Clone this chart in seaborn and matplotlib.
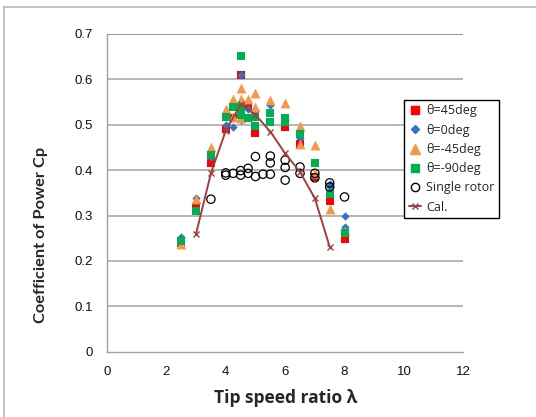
import matplotlib
matplotlib.use("Agg")
import matplotlib.pyplot as plt
import seaborn as sns
from matplotlib.lines import Line2D

# theta = 45 deg
red_x = [2.5, 3, 3.5, 4, 4.25, 4.5, 4.75, 5, 5.5, 6, 6.5, 7, 7.5, 8]
red_y = [0.240, 0.319, 0.416, 0.490, 0.515, 0.609, 0.543, 0.482, 0.507, 0.494, 0.457, 0.386, 0.332, 0.248]

# theta = 0 deg
blue_x = [2.5, 3, 3.5, 4, 4.25, 4.25, 4.5, 4.5, 4.75, 5, 5.5, 6, 6.5, 7, 7.5, 7.5, 8, 8]
blue_y = [0.253, 0.338, 0.430, 0.500, 0.515, 0.496, 0.609, 0.510, 0.534, 0.532, 0.543, 0.510, 0.471, 0.390, 0.370, 0.363, 0.299, 0.275]

# theta = -45 deg
orange_x = [2.5, 3, 3.5, 4, 4.25, 4.25, 4.5, 4.5, 4.5, 4.75, 5, 5, 5.5, 6, 6.5, 6.5, 7, 7, 7.5, 8]
orange_y = [0.238, 0.336, 0.452, 0.534, 0.556, 0.518, 0.580, 0.556, 0.514, 0.556, 0.569, 0.540, 0.554, 0.547, 0.497, 0.457, 0.455, 0.393, 0.314, 0.265]

# theta = -90 deg
green_x = [2.5, 3, 3.5, 4, 4.25, 4.5, 4.5, 4.5, 4.75, 5, 5, 5.5, 5.5, 6, 6, 6.5, 7, 7.5, 8]
green_y = [0.243, 0.311, 0.433, 0.518, 0.540, 0.651, 0.540, 0.521, 0.514, 0.518, 0.497, 0.525, 0.507, 0.514, 0.505, 0.480, 0.415, 0.347, 0.261]

# single rotor
single_x = [3.5, 4, 4, 4.25, 4.5, 4.5, 4.75, 4.75, 5, 5, 5.25, 5.5, 5.5, 5.5, 6, 6, 6, 6.5, 6.5, 7, 7, 7.5, 7.5, 8]
single_y = [0.336, 0.394, 0.389, 0.393, 0.399, 0.389, 0.404, 0.393, 0.430, 0.386, 0.391, 0.431, 0.416, 0.391, 0.422, 0.406, 0.378, 0.407, 0.393, 0.393, 0.383, 0.372, 0.363, 0.341]

# calculation
cal_x = [3, 3.5, 4, 4.5, 5, 5.5, 6, 6.5, 7, 7.5]
cal_y = [0.260, 0.393, 0.487, 0.545, 0.522, 0.485, 0.437, 0.396, 0.338, 0.231]

sns.set_style("white")
plt.rcParams["font.family"] = ["Liberation Sans", "DejaVu Sans"]

fig = plt.figure(figsize=(5.36, 4.17), dpi=100)
ax = fig.add_axes([0.1996, 0.1566, 0.6648, 0.7619])

grey = "#a0a0a0"
ax.set_xlim(0, 12)
ax.set_ylim(0, 0.7)
ax.set_xticks(range(0, 13, 2))
ax.set_yticks([0, 0.1, 0.2, 0.3, 0.4, 0.5, 0.6, 0.7])
ax.set_yticklabels(["0", "0.1", "0.2", "0.3", "0.4", "0.5", "0.6", "0.7"])
for y in [0.1, 0.2, 0.3, 0.4, 0.5, 0.6, 0.7]:
    ax.axhline(y, color="#b0b0b0" if y < 0.7 else "#8c8c8c", lw=1.3, zorder=0)

series = [
    (red_x, red_y, "s", "#ff0000", 36),
    (blue_x, blue_y, "D", "#2e75c8", 18),
    (orange_x, orange_y, "^", "#f79646", 50),
    (green_x, green_y, "s", "#00b050", 36),
]
for xs, ys, m, c, s in series:
    sns.scatterplot(x=xs, y=ys, marker=m, color=c, s=s, linewidth=0, ax=ax, zorder=3)

sns.scatterplot(x=single_x, y=single_y, marker="o", s=36, facecolor="none",
                edgecolor="black", linewidth=0.9, ax=ax, zorder=4)

cal_color = "#a0403c"
sns.lineplot(x=cal_x, y=cal_y, color=cal_color, lw=1.4, marker="x", markersize=5,
             markeredgecolor=cal_color, markeredgewidth=1.0, ax=ax, zorder=5)

for sp in ["top", "right"]:
    ax.spines[sp].set_visible(False)
for sp in ["left", "bottom"]:
    ax.spines[sp].set_color(grey)
    ax.spines[sp].set_linewidth(1.0)
ax.tick_params(axis="both", colors=grey, length=4, width=1.0, labelsize=9.5,
               labelcolor="#111111", direction="out", pad=6)

ax.set_xlabel("Tip speed ratio λ", labelpad=8, family=["Open Sans", "DejaVu Sans"],
              fontweight="bold", fontsize=12.5)
ax.set_ylabel("Coefficient of Power Cp", family=["Lato", "DejaVu Sans"],
              fontweight="bold", fontsize=11.8)
ax.yaxis.set_label_coords(-0.165, 0.367)

handles = [
    Line2D([], [], ls="", marker="s", color="#ff0000", markersize=6),
    Line2D([], [], ls="", marker="D", color="#2e75c8", markersize=4),
    Line2D([], [], ls="", marker="^", color="#f79646", markersize=7),
    Line2D([], [], ls="", marker="s", color="#00b050", markersize=6),
    Line2D([], [], ls="", marker="o", markerfacecolor="none", markeredgecolor="black", markersize=6),
    Line2D([], [], color=cal_color, marker="x", markersize=5, lw=1.4),
]
labels = ["θ=45deg", "θ=0deg", "θ=-45deg", "θ=-90deg", "Single rotor", "Cal."]
leg = fig.legend(handles, labels, loc="upper left", bbox_to_anchor=(0.754, 0.760),
                 frameon=True, fancybox=False, edgecolor="black", framealpha=1,
                 handlelength=1.0, handletextpad=0.4, labelspacing=0.5,
                 borderpad=0.35, borderaxespad=0,
                 prop={"family": ["Open Sans", "DejaVu Sans"], "size": 9})
leg.get_frame().set_linewidth(1.0)

# outer chart border
fig.add_artist(Line2D([0.0075, 1.0], [1 - 6.5 / 417, 1 - 6.5 / 417], color="#bdbdbd", lw=1.3))
fig.add_artist(Line2D([0.0075, 0.0075], [0, 1 - 6.5 / 417], color="#bdbdbd", lw=1.3))

fig.savefig("out.png", dpi=100)
plt.close(fig)
